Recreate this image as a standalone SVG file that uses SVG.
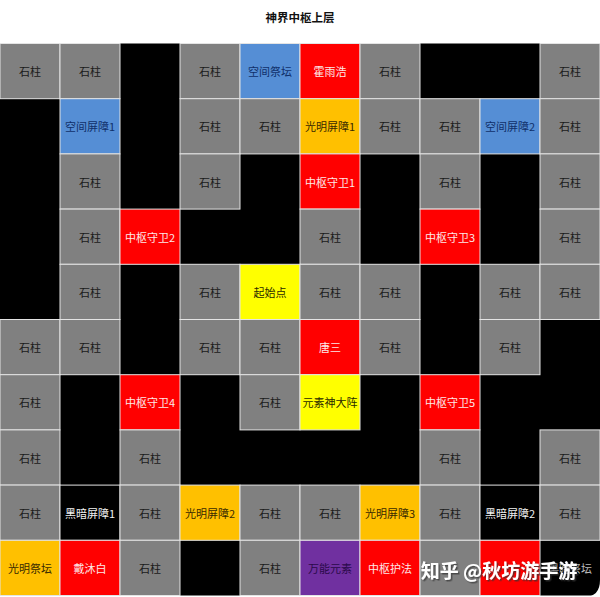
<svg xmlns="http://www.w3.org/2000/svg" width="600" height="597" viewBox="0 0 600 597">
<style>
text{font-family:"Noto Sans CJK SC","Noto Sans",sans-serif;font-size:11px;text-anchor:middle;dominant-baseline:central}
.t{font-weight:bold;font-size:11.5px;fill:#111}
rect.c{stroke:#e4e4e4;stroke-width:1}
.g rect{fill:#808080}.g text{fill:#1a1a1a}
.k rect{fill:#000}.k text{fill:#f2f2f2}
.r rect{fill:#ff0000}.r text{fill:#fde8e8}
.b rect{fill:#558ed5}.b text{fill:#10306a}
.o rect{fill:#ffc000}.o text{fill:#3a2a00}
.y rect{fill:#ffff00}.y text{fill:#2a2a00}
.p rect{fill:#7030a0}.p text{fill:#2a0a4a}
.wm{font-size:19px;fill:#fff;font-weight:bold;filter:url(#sh)}
</style>
<defs>
<filter id="sh" x="-10%" y="-30%" width="120%" height="160%">
<feDropShadow dx="1.5" dy="1.5" stdDeviation="0.6" flood-color="#333" flood-opacity="0.7"/>
</filter>
</defs>
<rect width="600" height="597" fill="#fff"/>
<text class="t" x="300" y="17">神界中枢上层</text>
<rect x="0" y="43.5" width="600" height="552" fill="#000"/>
<g id="cells">
<g id="r0c0" class="g"><rect class="c" x="0" y="43.5" width="60" height="55.2"/><text x="30" y="71.1">石柱</text></g>
<g id="r0c1" class="g"><rect class="c" x="60" y="43.5" width="60" height="55.2"/><text x="90" y="71.1">石柱</text></g>
<g id="r0c3" class="g"><rect class="c" x="180" y="43.5" width="60" height="55.2"/><text x="210" y="71.1">石柱</text></g>
<g id="r0c4" class="b"><rect class="c" x="240" y="43.5" width="60" height="55.2"/><text x="270" y="71.1">空间祭坛</text></g>
<g id="r0c5" class="r"><rect class="c" x="300" y="43.5" width="60" height="55.2"/><text x="330" y="71.1">霍雨浩</text></g>
<g id="r0c6" class="g"><rect class="c" x="360" y="43.5" width="60" height="55.2"/><text x="390" y="71.1">石柱</text></g>
<g id="r0c9" class="g"><rect class="c" x="540" y="43.5" width="60" height="55.2"/><text x="570" y="71.1">石柱</text></g>
<g id="r1c1" class="b"><rect class="c" x="60" y="98.7" width="60" height="55.2"/><text x="90" y="126.3">空间屏障1</text></g>
<g id="r1c3" class="g"><rect class="c" x="180" y="98.7" width="60" height="55.2"/><text x="210" y="126.3">石柱</text></g>
<g id="r1c4" class="g"><rect class="c" x="240" y="98.7" width="60" height="55.2"/><text x="270" y="126.3">石柱</text></g>
<g id="r1c5" class="o"><rect class="c" x="300" y="98.7" width="60" height="55.2"/><text x="330" y="126.3">光明屏障1</text></g>
<g id="r1c6" class="g"><rect class="c" x="360" y="98.7" width="60" height="55.2"/><text x="390" y="126.3">石柱</text></g>
<g id="r1c7" class="g"><rect class="c" x="420" y="98.7" width="60" height="55.2"/><text x="450" y="126.3">石柱</text></g>
<g id="r1c8" class="b"><rect class="c" x="480" y="98.7" width="60" height="55.2"/><text x="510" y="126.3">空间屏障2</text></g>
<g id="r1c9" class="g"><rect class="c" x="540" y="98.7" width="60" height="55.2"/><text x="570" y="126.3">石柱</text></g>
<g id="r2c1" class="g"><rect class="c" x="60" y="153.9" width="60" height="55.2"/><text x="90" y="181.5">石柱</text></g>
<g id="r2c3" class="g"><rect class="c" x="180" y="153.9" width="60" height="55.2"/><text x="210" y="181.5">石柱</text></g>
<g id="r2c5" class="r"><rect class="c" x="300" y="153.9" width="60" height="55.2"/><text x="330" y="181.5">中枢守卫1</text></g>
<g id="r2c7" class="g"><rect class="c" x="420" y="153.9" width="60" height="55.2"/><text x="450" y="181.5">石柱</text></g>
<g id="r2c9" class="g"><rect class="c" x="540" y="153.9" width="60" height="55.2"/><text x="570" y="181.5">石柱</text></g>
<g id="r3c1" class="g"><rect class="c" x="60" y="209.1" width="60" height="55.2"/><text x="90" y="236.7">石柱</text></g>
<g id="r3c2" class="r"><rect class="c" x="120" y="209.1" width="60" height="55.2"/><text x="150" y="236.7">中枢守卫2</text></g>
<g id="r3c5" class="g"><rect class="c" x="300" y="209.1" width="60" height="55.2"/><text x="330" y="236.7">石柱</text></g>
<g id="r3c7" class="r"><rect class="c" x="420" y="209.1" width="60" height="55.2"/><text x="450" y="236.7">中枢守卫3</text></g>
<g id="r3c9" class="g"><rect class="c" x="540" y="209.1" width="60" height="55.2"/><text x="570" y="236.7">石柱</text></g>
<g id="r4c1" class="g"><rect class="c" x="60" y="264.3" width="60" height="55.2"/><text x="90" y="291.9">石柱</text></g>
<g id="r4c3" class="g"><rect class="c" x="180" y="264.3" width="60" height="55.2"/><text x="210" y="291.9">石柱</text></g>
<g id="r4c4" class="y"><rect class="c" x="240" y="264.3" width="60" height="55.2"/><text x="270" y="291.9">起始点</text></g>
<g id="r4c5" class="g"><rect class="c" x="300" y="264.3" width="60" height="55.2"/><text x="330" y="291.9">石柱</text></g>
<g id="r4c6" class="g"><rect class="c" x="360" y="264.3" width="60" height="55.2"/><text x="390" y="291.9">石柱</text></g>
<g id="r4c8" class="g"><rect class="c" x="480" y="264.3" width="60" height="55.2"/><text x="510" y="291.9">石柱</text></g>
<g id="r4c9" class="g"><rect class="c" x="540" y="264.3" width="60" height="55.2"/><text x="570" y="291.9">石柱</text></g>
<g id="r5c0" class="g"><rect class="c" x="0" y="319.5" width="60" height="55.2"/><text x="30" y="347.1">石柱</text></g>
<g id="r5c1" class="g"><rect class="c" x="60" y="319.5" width="60" height="55.2"/><text x="90" y="347.1">石柱</text></g>
<g id="r5c3" class="g"><rect class="c" x="180" y="319.5" width="60" height="55.2"/><text x="210" y="347.1">石柱</text></g>
<g id="r5c4" class="g"><rect class="c" x="240" y="319.5" width="60" height="55.2"/><text x="270" y="347.1">石柱</text></g>
<g id="r5c5" class="r"><rect class="c" x="300" y="319.5" width="60" height="55.2"/><text x="330" y="347.1">唐三</text></g>
<g id="r5c6" class="g"><rect class="c" x="360" y="319.5" width="60" height="55.2"/><text x="390" y="347.1">石柱</text></g>
<g id="r5c8" class="g"><rect class="c" x="480" y="319.5" width="60" height="55.2"/><text x="510" y="347.1">石柱</text></g>
<g id="r6c0" class="g"><rect class="c" x="0" y="374.7" width="60" height="55.2"/><text x="30" y="402.3">石柱</text></g>
<g id="r6c2" class="r"><rect class="c" x="120" y="374.7" width="60" height="55.2"/><text x="150" y="402.3">中枢守卫4</text></g>
<g id="r6c4" class="g"><rect class="c" x="240" y="374.7" width="60" height="55.2"/><text x="270" y="402.3">石柱</text></g>
<g id="r6c5" class="y"><rect class="c" x="300" y="374.7" width="60" height="55.2"/><text x="330" y="402.3">元素神大阵</text></g>
<g id="r6c7" class="r"><rect class="c" x="420" y="374.7" width="60" height="55.2"/><text x="450" y="402.3">中枢守卫5</text></g>
<g id="r7c0" class="g"><rect class="c" x="0" y="429.9" width="60" height="55.2"/><text x="30" y="457.5">石柱</text></g>
<g id="r7c2" class="g"><rect class="c" x="120" y="429.9" width="60" height="55.2"/><text x="150" y="457.5">石柱</text></g>
<g id="r7c7" class="g"><rect class="c" x="420" y="429.9" width="60" height="55.2"/><text x="450" y="457.5">石柱</text></g>
<g id="r7c9" class="g"><rect class="c" x="540" y="429.9" width="60" height="55.2"/><text x="570" y="457.5">石柱</text></g>
<g id="r8c0" class="g"><rect class="c" x="0" y="485.1" width="60" height="55.2"/><text x="30" y="512.7">石柱</text></g>
<g id="r8c1" class="k"><rect class="c" x="60" y="485.1" width="60" height="55.2"/><text x="90" y="512.7">黑暗屏障1</text></g>
<g id="r8c2" class="g"><rect class="c" x="120" y="485.1" width="60" height="55.2"/><text x="150" y="512.7">石柱</text></g>
<g id="r8c3" class="o"><rect class="c" x="180" y="485.1" width="60" height="55.2"/><text x="210" y="512.7">光明屏障2</text></g>
<g id="r8c4" class="g"><rect class="c" x="240" y="485.1" width="60" height="55.2"/><text x="270" y="512.7">石柱</text></g>
<g id="r8c5" class="g"><rect class="c" x="300" y="485.1" width="60" height="55.2"/><text x="330" y="512.7">石柱</text></g>
<g id="r8c6" class="o"><rect class="c" x="360" y="485.1" width="60" height="55.2"/><text x="390" y="512.7">光明屏障3</text></g>
<g id="r8c7" class="g"><rect class="c" x="420" y="485.1" width="60" height="55.2"/><text x="450" y="512.7">石柱</text></g>
<g id="r8c8" class="k"><rect class="c" x="480" y="485.1" width="60" height="55.2"/><text x="510" y="512.7">黑暗屏障2</text></g>
<g id="r8c9" class="g"><rect class="c" x="540" y="485.1" width="60" height="55.2"/><text x="570" y="512.7">石柱</text></g>
<g id="r9c0" class="o"><rect class="c" x="0" y="540.3" width="60" height="55.2"/><text x="30" y="567.9">光明祭坛</text></g>
<g id="r9c1" class="r"><rect class="c" x="60" y="540.3" width="60" height="55.2"/><text x="90" y="567.9">戴沐白</text></g>
<g id="r9c2" class="g"><rect class="c" x="120" y="540.3" width="60" height="55.2"/><text x="150" y="567.9">石柱</text></g>
<g id="r9c4" class="g"><rect class="c" x="240" y="540.3" width="60" height="55.2"/><text x="270" y="567.9">石柱</text></g>
<g id="r9c5" class="p"><rect class="c" x="300" y="540.3" width="60" height="55.2"/><text x="330" y="567.9">万能元素</text></g>
<g id="r9c6" class="r"><rect class="c" x="360" y="540.3" width="60" height="55.2"/><text x="390" y="567.9">中枢护法</text></g>
<g id="r9c7" class="g"><rect class="c" x="420" y="540.3" width="60" height="55.2"/></g>
<g id="r9c8" class="r"><rect class="c" x="480" y="540.3" width="60" height="55.2"/></g>
<g id="r9c9" class="k"><text x="570" y="567.9" style="fill:#bbb">黑暗祭坛</text></g>
</g>
<g id="connectors"></g>
<path d="M600 580 Q600 597 584 597 L600 597 Z" fill="#fff"/>
<text class="wm" x="499" y="569">知乎 @秋坊游手游</text>
</svg>
